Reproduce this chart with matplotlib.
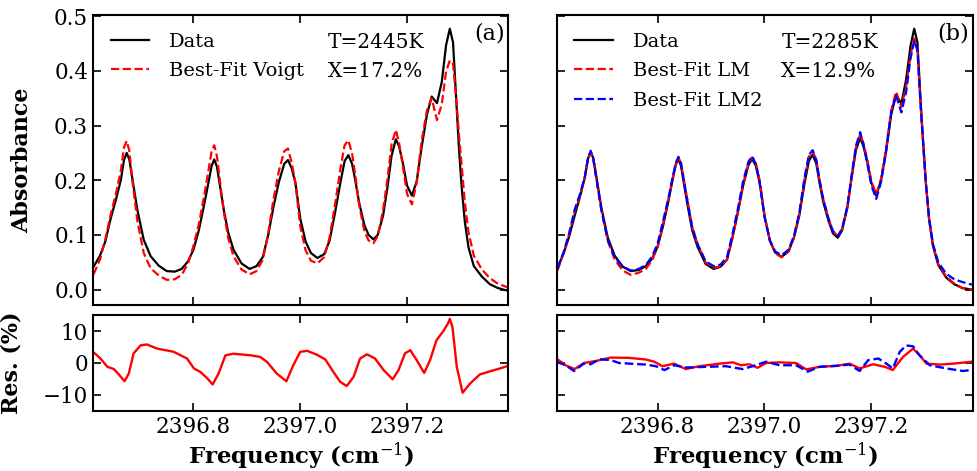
import matplotlib
matplotlib.use("Agg")
import matplotlib.pyplot as plt

plt.rcParams['font.family'] = ['DejaVu Serif']
plt.rcParams['mathtext.fontset'] = 'dejavuserif'

# frequency grid (cm^-1) shared by the spectra of both panels
freq = [2396.613, 2396.625, 2396.635, 2396.645, 2396.655, 2396.664, 2396.670, 2396.675, 2396.680, 2396.685,
        2396.695, 2396.707, 2396.720, 2396.735, 2396.750, 2396.765, 2396.778, 2396.790, 2396.800, 2396.810,
        2396.820, 2396.828, 2396.834, 2396.839, 2396.844, 2396.850, 2396.857, 2396.865, 2396.875, 2396.890,
        2396.905, 2396.918, 2396.930, 2396.940, 2396.950, 2396.960, 2396.970, 2396.977, 2396.984, 2396.991,
        2397.000, 2397.010, 2397.020, 2397.032, 2397.045, 2397.055, 2397.065, 2397.075, 2397.083, 2397.090,
        2397.097, 2397.103, 2397.110, 2397.120, 2397.128, 2397.137, 2397.145, 2397.155, 2397.163, 2397.171,
        2397.179, 2397.185, 2397.192, 2397.200, 2397.209, 2397.218, 2397.227, 2397.237, 2397.246, 2397.256,
        2397.265, 2397.273, 2397.280, 2397.286, 2397.292, 2397.297, 2397.302, 2397.308, 2397.315, 2397.325,
        2397.340, 2397.355, 2397.370, 2397.389]

# panel (a)
data_a = [0.042, 0.062, 0.088, 0.130, 0.165, 0.200, 0.237, 0.250, 0.238, 0.207,
          0.146, 0.091, 0.061, 0.044, 0.034, 0.033, 0.038, 0.052, 0.073, 0.108,
          0.155, 0.195, 0.226, 0.238, 0.225, 0.188, 0.145, 0.105, 0.073, 0.048,
          0.038, 0.043, 0.060, 0.100, 0.152, 0.197, 0.230, 0.237, 0.222, 0.195,
          0.130, 0.088, 0.067, 0.058, 0.065, 0.090, 0.140, 0.195, 0.235, 0.246,
          0.230, 0.200, 0.160, 0.118, 0.100, 0.092, 0.100, 0.135, 0.185, 0.245,
          0.275, 0.262, 0.232, 0.190, 0.172, 0.198, 0.259, 0.319, 0.353, 0.341,
          0.380, 0.447, 0.477, 0.452, 0.348, 0.260, 0.190, 0.125, 0.077, 0.043,
          0.024, 0.010, 0.003, -0.002]
voigt_a = [0.028, 0.055, 0.092, 0.137, 0.176, 0.217, 0.260, 0.272, 0.254, 0.205,
           0.126, 0.067, 0.039, 0.026, 0.018, 0.019, 0.027, 0.048, 0.080, 0.119,
           0.171, 0.217, 0.253, 0.264, 0.244, 0.196, 0.141, 0.095, 0.061, 0.037,
           0.028, 0.034, 0.055, 0.103, 0.166, 0.217, 0.253, 0.258, 0.232, 0.195,
           0.116, 0.072, 0.053, 0.048, 0.060, 0.096, 0.155, 0.220, 0.264, 0.273,
           0.249, 0.210, 0.156, 0.107, 0.090, 0.085, 0.098, 0.145, 0.200, 0.266,
           0.292, 0.268, 0.226, 0.175, 0.156, 0.196, 0.270, 0.327, 0.350, 0.310,
           0.339, 0.399, 0.419, 0.413, 0.350, 0.285, 0.229, 0.161, 0.105, 0.062,
           0.037, 0.021, 0.011, 0.004]

res_freq_a = [2396.614, 2396.626, 2396.639, 2396.651, 2396.660, 2396.671, 2396.679, 2396.688, 2396.701, 2396.713,
              2396.732, 2396.763, 2396.788, 2396.801, 2396.813, 2396.826, 2396.836, 2396.847, 2396.860, 2396.875,
              2396.907, 2396.925, 2396.938, 2396.956, 2396.974, 2396.987, 2397.000, 2397.013, 2397.031, 2397.047,
              2397.062, 2397.075, 2397.087, 2397.100, 2397.112, 2397.125, 2397.140, 2397.156, 2397.173, 2397.184,
              2397.196, 2397.206, 2397.218, 2397.232, 2397.243, 2397.255, 2397.268, 2397.277, 2397.280, 2397.285,
              2397.293, 2397.304, 2397.318, 2397.336, 2397.355, 2397.374, 2397.387]
res_voigt_a = [3.2, 1.4, -1.2, -1.9, -3.5, -5.7, -3.3, 3.0, 5.5, 5.8,
               4.5, 3.5, 1.4, -1.7, -2.8, -4.8, -6.7, -3.3, 2.4, 2.9,
               2.4, 1.9, 0.3, -3.3, -5.7, -0.7, 3.5, 3.8, 2.6, 1.1,
               -2.8, -5.9, -7.2, -4.3, 1.4, 2.7, 1.4, -2.2, -5.1, -2.2,
               3.0, 4.0, 0.9, -3.1, 0.9, 7.1, 10.0, 12.5, 13.8, 11.2,
               -1.2, -9.3, -6.4, -3.6, -2.6, -1.7, -1.0]

# panel (b)
data_b = [0.040, 0.068, 0.098, 0.135, 0.170, 0.205, 0.240, 0.252, 0.240, 0.210,
          0.150, 0.095, 0.062, 0.042, 0.034, 0.036, 0.043, 0.057, 0.078, 0.115,
          0.160, 0.200, 0.228, 0.239, 0.226, 0.190, 0.150, 0.108, 0.078, 0.047,
          0.038, 0.042, 0.055, 0.095, 0.140, 0.190, 0.228, 0.239, 0.226, 0.195,
          0.135, 0.090, 0.068, 0.060, 0.070, 0.095, 0.135, 0.195, 0.235, 0.247,
          0.230, 0.195, 0.160, 0.125, 0.103, 0.095, 0.108, 0.150, 0.205, 0.255,
          0.278, 0.262, 0.235, 0.195, 0.172, 0.200, 0.250, 0.320, 0.356, 0.340,
          0.385, 0.445, 0.477, 0.452, 0.345, 0.265, 0.192, 0.127, 0.080, 0.045,
          0.022, 0.010, 0.003, 0.000]
lm_b = [0.035, 0.069, 0.103, 0.143, 0.172, 0.205, 0.239, 0.250, 0.238, 0.207,
        0.146, 0.089, 0.055, 0.035, 0.027, 0.031, 0.038, 0.054, 0.078, 0.119,
        0.163, 0.202, 0.229, 0.242, 0.231, 0.197, 0.158, 0.114, 0.083, 0.050,
        0.040, 0.043, 0.055, 0.094, 0.141, 0.193, 0.230, 0.242, 0.231, 0.200,
        0.136, 0.090, 0.067, 0.059, 0.070, 0.095, 0.138, 0.202, 0.243, 0.254,
        0.236, 0.200, 0.165, 0.129, 0.107, 0.098, 0.111, 0.151, 0.207, 0.260,
        0.284, 0.268, 0.239, 0.198, 0.174, 0.203, 0.255, 0.328, 0.362, 0.334,
        0.372, 0.428, 0.459, 0.439, 0.337, 0.262, 0.193, 0.128, 0.082, 0.047,
        0.024, 0.011, 0.003, 0.000]
lm2_b = [0.039, 0.070, 0.104, 0.146, 0.175, 0.206, 0.241, 0.254, 0.239, 0.207,
         0.145, 0.091, 0.059, 0.042, 0.035, 0.038, 0.045, 0.061, 0.084, 0.124,
         0.166, 0.204, 0.231, 0.243, 0.231, 0.195, 0.156, 0.114, 0.083, 0.052,
         0.043, 0.046, 0.060, 0.101, 0.147, 0.198, 0.234, 0.244, 0.229, 0.196,
         0.134, 0.090, 0.070, 0.063, 0.073, 0.098, 0.140, 0.205, 0.246, 0.255,
         0.237, 0.200, 0.165, 0.129, 0.107, 0.098, 0.111, 0.153, 0.209, 0.263,
         0.288, 0.266, 0.232, 0.190, 0.166, 0.197, 0.251, 0.325, 0.355, 0.324,
         0.362, 0.422, 0.455, 0.437, 0.336, 0.263, 0.194, 0.130, 0.084, 0.050,
         0.029, 0.019, 0.014, 0.009]

res_freq_lm = [2396.611, 2396.628, 2396.645, 2396.662, 2396.684, 2396.713, 2396.747, 2396.778, 2396.794, 2396.809,
               2396.831, 2396.853, 2396.878, 2396.916, 2396.941, 2396.956, 2396.972, 2396.987, 2397.003, 2397.028,
               2397.059, 2397.078, 2397.103, 2397.134, 2397.159, 2397.178, 2397.203, 2397.225, 2397.240, 2397.259,
               2397.278, 2397.290, 2397.303, 2397.328, 2397.353, 2397.387]
res_lm = [1.4, -0.7, -1.9, 0.0, 0.6, 1.7, 1.6, 1.1, 0.4, -1.0,
          -0.2, -1.9, -1.0, -0.2, 0.2, -0.7, -0.4, -1.5, 0.0, 0.2,
          0.0, -2.0, -1.2, -0.9, -0.2, -1.7, -0.4, -1.2, -2.2, 1.9,
          4.5, 2.4, -0.2, -0.5, -0.2, 0.4]

res_freq_lm2 = [2396.611, 2396.628, 2396.644, 2396.662, 2396.675, 2396.691, 2396.713, 2396.728, 2396.778, 2396.797,
                2396.813, 2396.831, 2396.853, 2396.891, 2396.928, 2396.959, 2396.978, 2397.003, 2397.028, 2397.059,
                2397.081, 2397.103, 2397.134, 2397.159, 2397.178, 2397.194, 2397.213, 2397.228, 2397.240, 2397.253,
                2397.265, 2397.278, 2397.290, 2397.309, 2397.340, 2397.371, 2397.387]
res_lm2 = [0.4, -0.7, -2.5, -0.2, -0.4, 1.2, 0.9, 0.0, -0.5, -1.0,
           -2.2, -0.7, -1.4, -1.2, -1.0, -1.9, -1.0, 0.4, -0.7, -0.7,
           -2.7, -1.2, -0.9, -0.5, -2.5, 0.9, 1.4, -0.2, -1.7, 3.5,
           5.5, 5.2, 2.4, -0.7, -1.7, -2.5, -2.2]

xticks = [2396.8, 2397.0, 2397.2]
xtick_labels = ['2396.8', '2397.0', '2397.2']
xlim = (2396.612, 2397.389)

fig = plt.figure(figsize=(9.77, 4.71), dpi=100)
ax1 = fig.add_axes([0.0952, 0.3524, 0.4248, 0.6157])
ax1r = fig.add_axes([0.0952, 0.1274, 0.4248, 0.2038])
ax2 = fig.add_axes([0.5701, 0.3524, 0.4253, 0.6157])
ax2r = fig.add_axes([0.5701, 0.1274, 0.4253, 0.2038])

leg_kw = dict(loc='upper left', frameon=False, fontsize=14, labelspacing=0.6, handletextpad=1.0)

# (a)
ax1.plot(freq, data_a, color='black', lw=1.6, label='Data')
ax1.plot(freq, voigt_a, color='red', ls='--', lw=1.6, label='Best-Fit Voigt')
ax1.legend(**leg_kw)
ax1.text(0.565, 0.905, 'T=2445K', transform=ax1.transAxes, fontsize=14.5, va='center')
ax1.text(0.565, 0.805, 'X=17.2%', transform=ax1.transAxes, fontsize=14.5, va='center')
ax1.text(0.992, 0.935, '(a)', transform=ax1.transAxes, fontsize=16, va='center', ha='right')
ax1.set_ylabel('Absorbance', fontsize=16, fontweight='bold')
ax1.yaxis.set_label_coords(-0.145, 0.5)

ax1r.plot(res_freq_a, res_voigt_a, color='red', lw=1.7)
ax1r.set_ylabel('Res. (%)', fontsize=16, fontweight='bold')
ax1r.yaxis.set_label_coords(-0.17, 0.5)
ax1r.set_xlabel('Frequency (cm$^{-1}$)', fontsize=16.5, fontweight='bold', labelpad=2)

# (b)
ax2.plot(freq, data_b, color='black', lw=1.6, label='Data')
ax2.plot(freq, lm_b, color='red', ls='--', lw=1.6, label='Best-Fit LM')
ax2.plot(freq, lm2_b, color='blue', ls='--', lw=1.6, label='Best-Fit LM2')
ax2.legend(**leg_kw)
ax2.text(0.54, 0.905, 'T=2285K', transform=ax2.transAxes, fontsize=14.5, va='center')
ax2.text(0.54, 0.805, 'X=12.9%', transform=ax2.transAxes, fontsize=14.5, va='center')
ax2.text(0.992, 0.935, '(b)', transform=ax2.transAxes, fontsize=16, va='center', ha='right')

ax2r.plot(res_freq_lm, res_lm, color='red', lw=1.7)
ax2r.plot(res_freq_lm2, res_lm2, color='blue', ls='--', lw=1.7)
ax2r.set_xlabel('Frequency (cm$^{-1}$)', fontsize=16.5, fontweight='bold', labelpad=2)

for ax in (ax1, ax2):
    ax.set_ylim(-0.028, 0.502)
    ax.set_yticks([0.0, 0.1, 0.2, 0.3, 0.4, 0.5])
for ax in (ax1r, ax2r):
    ax.set_ylim(-15, 15)
    ax.set_yticks([-10, 0, 10])
for ax in (ax1, ax2, ax1r, ax2r):
    ax.set_xlim(*xlim)
    ax.set_xticks(xticks)
    ax.tick_params(direction='in', top=True, right=True, length=6, width=1.2, labelsize=15.5)
    for sp in ax.spines.values():
        sp.set_linewidth(1.5)
ax1.set_xticklabels([])
ax2.set_xticklabels([])
ax1r.set_xticklabels(xtick_labels)
ax2r.set_xticklabels(xtick_labels)
ax2.set_yticklabels([])
ax2r.set_yticklabels([])

fig.savefig('out.png', dpi=100)
